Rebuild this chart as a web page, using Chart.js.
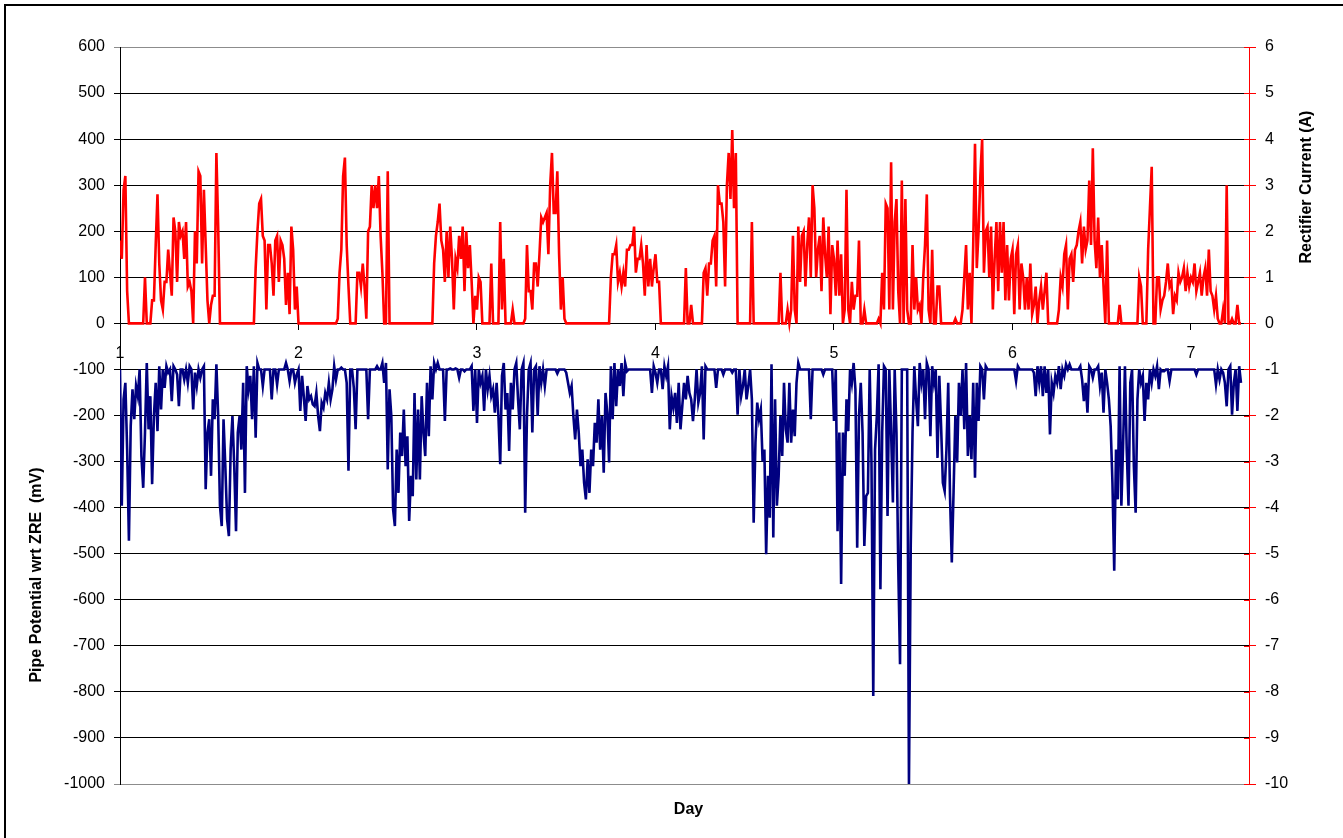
<!DOCTYPE html>
<html>
<head>
<meta charset="utf-8">
<title>Pipe Potential and Rectifier Current</title>
<script src="https://cdn.jsdelivr.net/npm/chart.js@4.4.1/dist/chart.umd.min.js"></script>
<style>
    body {
        margin: 0;
        background: #ffffff;
    }
    #wrap {
        position: relative;
        width: 1343px;
        height: 838px;
        overflow: hidden;
    }
    #frame {
        position: absolute;
        left: 4px;
        top: 4px;
        width: 1400px;
        height: 900px;
        border-left: 2px solid #000000;
        border-top: 2px solid #000000;
        pointer-events: none;
    }
</style>
</head>
<body>
<div id="wrap">
    <canvas id="potencialChart" width="1343" height="838"></canvas>
    <div id="frame"></div>
</div>
<script>
// logger sample interval (days)
const firstDay = 1.00;
const dayStep = 0.01;

// Rectifier current (A), right axis
const rectifierCurrent = [
    1.8, 1.4, 2.9, 3.2, 0.7, 0, 0, 0, 0, 0,
    0, 0, 0, 0, 1.0, 0, 0, 0, 0.5, 0.5,
    1.7, 2.8, 1.3, 0.5, 0.3, 0.9, 0.9, 1.6, 1.1, 0.6,
    2.3, 2.0, 0.9, 2.2, 1.9, 2.0, 1.4, 2.2, 0.8, 0.9,
    0.7, 0, 2.0, 1.3, 3.3, 3.2, 1.3, 2.9, 1.7, 0.5,
    0, 0.4, 0.6, 0.6, 3.7, 2.1, 0, 0, 0, 0,
    0, 0, 0, 0, 0, 0, 0, 0, 0, 0,
    0, 0, 0, 0, 0, 0, 1.2, 2.0, 2.6, 2.7,
    1.9, 1.8, 0.3, 1.7, 1.7, 1.3, 0.6, 1.8, 1.9, 0.9,
    1.8, 1.7, 1.4, 0.4, 1.1, 0.2, 2.1, 1.6, 0.3, 0.8,
    0, 0, 0, 0, 0, 0, 0, 0, 0, 0,
    0, 0, 0, 0, 0, 0, 0, 0, 0, 0,
    0, 0, 0.1, 1.1, 1.6, 3.2, 3.6, 1.7, 0.8, 0,
    0, 0, 0, 1.1, 1.1, 0.8, 1.3, 0.8, 0.1, 2.0,
    2.1, 3.0, 2.5, 3.0, 2.5, 3.2, 1.9, 1.1, 0, 0,
    3.3, 0, 0, 0, 0, 0, 0, 0, 0, 0,
    0, 0, 0, 0, 0, 0, 0, 0, 0, 0,
    0, 0, 0, 0, 0, 0, 1.3, 1.9, 2.2, 2.6,
    1.8, 1.6, 0.9, 2.0, 1.0, 2.1, 1.4, 0.3, 1.4, 1.2,
    1.9, 1.4, 2.1, 0.7, 2.0, 1.2, 1.7, 0.9, 0, 0.6,
    0.3, 1.0, 0.9, 0, 0, 0, 0, 0, 1.3, 0,
    0, 0, 0, 2.2, 0.3, 1.4, 0, 0, 0, 0,
    0.3, 0, 0, 0, 0, 0, 0, 0.1, 1.7, 0.7,
    0.7, 0.3, 1.3, 1.3, 0.8, 1.5, 2.3, 2.2, 2.3, 2.4,
    1.5, 3.0, 3.7, 2.4, 2.4, 3.3, 1.5, 0.3, 1.0, 0.1,
    0, 0, 0, 0, 0, 0, 0, 0, 0, 0,
    0, 0, 0, 0, 0, 0, 0, 0, 0, 0,
    0, 0, 0, 0, 0, 1.0, 1.5, 1.5, 1.7, 0.9,
    1.1, 0.8, 1.1, 0.8, 1.6, 1.6, 1.7, 1.7, 2.1, 1.1,
    1.4, 1.4, 1.7, 1.3, 0.6, 1.7, 0.8, 1.4, 0.8, 1.2,
    1.5, 0.9, 0.9, 0, 0, 0, 0, 0, 0, 0,
    0, 0, 0, 0, 0, 0, 0, 1.2, 0, 0,
    0.4, 0, 0, 0, 0, 0, 0, 1.1, 1.2, 0.6,
    1.3, 1.3, 1.8, 1.9, 0.8, 3.0, 2.6, 2.6, 2.2, 0.8,
    3.0, 3.7, 2.7, 4.2, 2.5, 3.7, 0, 0, 0, 0,
    0, 0, 0, 0, 2.2, 0, 0, 0, 0, 0,
    0, 0, 0, 0, 0, 0, 0, 0, 0, 0,
    1.1, 0, 0, 0, 0.3, 0, 0.3, 1.9, 0.3, 0,
    2.1, 0.9, 1.9, 2.0, 0.8, 1.7, 2.3, 1.0, 3.0, 2.5,
    1.0, 1.6, 1.9, 0.7, 2.3, 1.5, 1.0, 2.1, 0.2, 1.7,
    1.4, 0.6, 1.8, 0.6, 1.5, 0, 0.3, 2.9, 0.3, 0,
    0.9, 0.3, 0.6, 0.6, 1.8, 0, 0, 0.3, 0, 0,
    0, 0, 0, 0, 0, 0.1, 0, 1.1, 0.3, 2.6,
    2.5, 0.3, 3.5, 0.3, 2.2, 2.7, 0.7, 0, 3.1, 0,
    2.7, 0.3, 0, 0, 1.7, 0.3, 1.0, 0.3, 0.4, 0,
    1.0, 1.7, 2.8, 0.3, 0, 1.6, 0, 0, 0.8, 0.8,
    0, 0, 0, 0, 0, 0, 0, 0, 0.1, 0,
    0, 0, 0.3, 1.0, 1.7, 0.3, 1.1, 0, 1.7, 3.9,
    1.2, 2.0, 3.2, 4.0, 1.1, 2.0, 2.1, 1.0, 2.1, 0.3,
    1.4, 2.2, 0.7, 2.2, 1.1, 2.2, 0.5, 1.7, 0.5, 1.4,
    1.6, 0.2, 1.5, 1.7, 0.3, 1.3, 1.0, 0.3, 1.0, 0.3,
    1.3, 0.2, 0.4, 0.8, 0, 0.5, 0.8, 0.3, 0.7, 1.1,
    0, 0, 0, 0, 0, 0, 0.3, 1.0, 0.8, 1.5,
    1.7, 0.3, 1.4, 1.5, 0.9, 1.6, 1.7, 2.0, 2.2, 1.3,
    2.1, 1.6, 1.8, 3.1, 1.7, 3.8, 1.8, 1.2, 2.3, 1.0,
    1.7, 0.8, 0, 1.8, 0, 0, 0, 0, 0, 0,
    0.4, 0, 0, 0, 0, 0, 0, 0, 0, 0,
    0, 1.0, 0.8, 0, 0, 0, 1.6, 2.5, 3.4, 0,
    0, 1.0, 1.0, 0.3, 0.5, 0.6, 0.9, 1.3, 0.8, 0.9,
    0.2, 0.6, 0.5, 1.1, 0.9, 1.0, 1.2, 0.7, 1.1, 0.8,
    1.0, 0.9, 1.3, 0.7, 0.9, 1.1, 0.6, 1.0, 1.2, 0.6,
    1.6, 0.7, 0.6, 0.3, 0.6, 0.1, 0, 0, 0.3, 0,
    3.0, 0, 0, 0.1, 0, 0, 0.4, 0, 0
];

// Pipe potential wrt ZRE (mV), left axis
const pipePotential = [
    -100, -396, -165, -129, -274, -472, -223, -143, -208, -136,
    -158, -100, -288, -357, -237, -86, -230, -158, -349, -201,
    -129, -234, -93, -187, -100, -140, -93, -107, -100, -169,
    -93, -100, -111, -180, -100, -100, -122, -100, -129, -93,
    -100, -187, -107, -136, -100, -118, -100, -93, -360, -237,
    -208, -331, -165, -208, -89, -201, -396, -440, -208, -310,
    -425, -462, -274, -201, -310, -451, -237, -201, -274, -129,
    -368, -93, -143, -114, -208, -93, -248, -86, -100, -100,
    -136, -100, -100, -100, -100, -165, -100, -100, -133, -100,
    -100, -100, -100, -86, -100, -125, -100, -100, -129, -111,
    -100, -190, -114, -160, -212, -136, -165, -158, -176, -180,
    -151, -201, -234, -172, -183, -151, -165, -129, -165, -143,
    -93, -122, -100, -100, -96, -100, -100, -129, -320, -100,
    -100, -140, -230, -100, -100, -100, -100, -100, -100, -208,
    -100, -100, -100, -100, -93, -100, -100, -86, -129, -86,
    -317, -143, -201, -404, -440, -274, -368, -237, -288, -187,
    -310, -245, -429, -331, -375, -151, -339, -187, -339, -158,
    -237, -288, -129, -245, -93, -165, -86, -100, -86, -100,
    -100, -100, -212, -100, -100, -98, -100, -100, -98, -100,
    -118, -100, -100, -104, -100, -100, -100, -93, -190, -100,
    -216, -100, -129, -114, -190, -100, -143, -114, -158, -143,
    -194, -129, -201, -306, -114, -86, -187, -151, -277, -129,
    -187, -100, -86, -165, -230, -100, -86, -411, -201, -100,
    -86, -237, -100, -93, -201, -93, -129, -100, -136, -100,
    -100, -100, -100, -100, -100, -109, -100, -100, -100, -100,
    -107, -129, -151, -136, -201, -252, -187, -237, -310, -274,
    -346, -382, -295, -368, -274, -310, -216, -259, -165, -274,
    -201, -324, -151, -194, -302, -93, -208, -86, -180, -100,
    -136, -86, -158, -86, -104, -100, -100, -100, -100, -100,
    -100, -100, -100, -100, -100, -100, -100, -100, -151, -93,
    -107, -129, -100, -100, -143, -93, -114, -93, -230, -158,
    -183, -151, -216, -129, -230, -180, -129, -165, -114, -151,
    -165, -212, -165, -100, -172, -151, -93, -252, -93, -100,
    -100, -100, -100, -100, -140, -100, -100, -100, -111, -100,
    -100, -100, -100, -107, -100, -100, -198, -100, -158, -136,
    -100, -165, -136, -100, -165, -433, -259, -172, -208, -187,
    -300, -274, -501, -331, -422, -89, -465, -165, -396, -331,
    -201, -288, -129, -230, -259, -129, -259, -187, -245, -129,
    -86, -100, -100, -100, -100, -100, -100, -208, -100, -100,
    -100, -100, -100, -100, -111, -100, -100, -100, -100, -100,
    -212, -100, -451, -237, -566, -237, -331, -165, -234, -100,
    -129, -86, -143, -487, -201, -129, -237, -483, -375, -368,
    -100, -302, -809, -274, -201, -89, -577, -237, -93, -100,
    -418, -100, -237, -389, -100, -237, -527, -740, -100, -100,
    -100, -100, -1000, -483, -237, -93, -165, -223, -86, -129,
    -100, -208, -86, -100, -245, -93, -129, -100, -292, -114,
    -223, -346, -364, -274, -129, -375, -519, -364, -201, -302,
    -129, -201, -100, -230, -86, -288, -201, -295, -129, -335,
    -129, -212, -93, -100, -165, -93, -100, -100, -100, -100,
    -100, -100, -100, -100, -100, -100, -100, -100, -100, -100,
    -100, -100, -125, -93, -100, -100, -100, -100, -100, -100,
    -100, -100, -107, -158, -93, -129, -93, -158, -93, -151,
    -100, -241, -129, -151, -114, -129, -93, -143, -100, -114,
    -89, -100, -89, -100, -100, -100, -100, -100, -93, -122,
    -169, -129, -194, -93, -100, -118, -100, -100, -93, -136,
    -107, -194, -100, -129, -165, -223, -346, -537, -274, -382,
    -93, -396, -259, -93, -274, -396, -129, -100, -310, -411,
    -165, -100, -129, -114, -212, -129, -165, -100, -129, -100,
    -114, -93, -143, -100, -104, -104, -100, -100, -125, -100,
    -100, -100, -100, -100, -100, -100, -100, -100, -100, -100,
    -100, -100, -100, -111, -100, -100, -100, -100, -100, -100,
    -100, -100, -100, -100, -133, -100, -122, -100, -107, -129,
    -180, -100, -93, -198, -129, -100, -190, -93, -129
];

const leftTitle = "Pipe Potential wrt ZRE  (mV)";
const rightTitle = "Rectifier Current (A)";
const xTitle = "Day";

const fonte = '"Liberation Sans", Arial, sans-serif';

function pontos(valores) {
    return valores.map((v, i) => ({
        x: +(firstDay + i * dayStep).toFixed(2),
        y: v
    }));
}

// axis titles drawn where Excel put them
const titulosEixos = {
    id: "titulosEixos",
    afterDraw(chart) {
        const ctx = chart.ctx;
        const area = chart.chartArea;
        ctx.save();
        ctx.font = "bold 16px " + fonte;
        ctx.fillStyle = "#000000";
        ctx.textAlign = "center";
        ctx.textBaseline = "middle";

        ctx.fillText(xTitle, (area.left + area.right) / 2 + 4, 810);

        ctx.save();
        ctx.translate(37, 575);
        ctx.rotate(-Math.PI / 2);
        ctx.fillText(leftTitle, 0, 0);
        ctx.restore();

        ctx.save();
        ctx.translate(1307, 187);
        ctx.rotate(-Math.PI / 2);
        ctx.fillText(rightTitle, 0, 0);
        ctx.restore();

        // right axis ticks cross the axis line
        ctx.strokeStyle = "#ff0000";
        ctx.lineWidth = 1;
        const y1 = chart.scales.y1;
        y1.ticks.forEach(t => {
            const py = Math.round(y1.getPixelForValue(t.value)) + 0.5;
            ctx.beginPath();
            ctx.moveTo(area.right - 5, py);
            ctx.lineTo(area.right, py);
            ctx.stroke();
        });
        ctx.restore();
    }
};

function carregarGrafico() {
    const ctx = document.getElementById("potencialChart").getContext("2d");

    new Chart(ctx, {
        type: "line",
        data: {
            datasets: [{
                label: leftTitle,
                data: pontos(pipePotential),
                yAxisID: "y",
                borderColor: "#000080",
                borderWidth: 2.6,
                pointRadius: 0,
                tension: 0
            }, {
                label: rightTitle,
                data: pontos(rectifierCurrent),
                yAxisID: "y1",
                borderColor: "#ff0000",
                borderWidth: 2.6,
                pointRadius: 0,
                tension: 0
            }]
        },
        options: {
            responsive: false,
            animation: false,
            layout: {
                padding: { top: 47, bottom: 54, left: 0, right: 0 }
            },
            plugins: {
                legend: { display: false },
                tooltip: { enabled: false }
            },
            scales: {
                x: {
                    type: "linear",
                    position: { y: 0 },
                    min: 1,
                    max: 7.325,
                    ticks: {
                        stepSize: 1,
                        includeBounds: false,
                        padding: 15,
                        maxRotation: 0,
                        color: "#000000",
                        font: { family: fonte, size: 16 }
                    },
                    grid: {
                        drawOnChartArea: false,
                        tickLength: 6,
                        color: "#000000"
                    },
                    border: { color: "#000000" }
                },
                y: {
                    position: "left",
                    min: -1000,
                    max: 600,
                    afterFit: scale => { scale.width = 120; },
                    ticks: {
                        stepSize: 100,
                        padding: 9,
                        color: "#000000",
                        font: { family: fonte, size: 16 },
                        callback: v => String(v)
                    },
                    grid: {
                        tickLength: 6,
                        color: c => (c.tick && (c.tick.value === 600 || c.tick.value === -1000)) ? "#8c8c8c" : "#000000"
                    },
                    border: { color: "#000000" }
                },
                y1: {
                    position: "right",
                    min: -10,
                    max: 6,
                    afterFit: scale => { scale.width = 94; },
                    ticks: {
                        stepSize: 1,
                        padding: 9,
                        color: "#000000",
                        font: { family: fonte, size: 16 },
                        callback: v => String(v)
                    },
                    grid: {
                        drawOnChartArea: false,
                        tickLength: 7,
                        color: "#ff0000"
                    },
                    border: { color: "#ff0000" }
                }
            }
        },
        plugins: [titulosEixos]
    });
}

carregarGrafico();
</script>
</body>
</html>
